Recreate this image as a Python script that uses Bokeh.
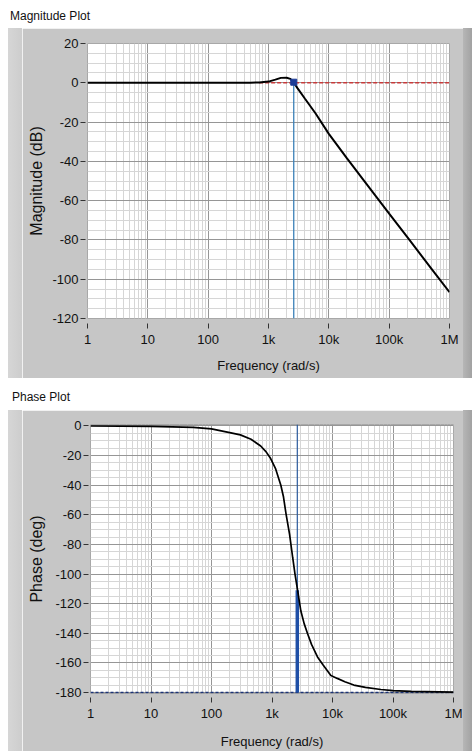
from bokeh.plotting import figure
from bokeh.models import Range1d, FixedTicker, CustomJSTickFormatter, Div
from bokeh.layouts import column, row
from bokeh.embed import file_html
from bokeh.resources import INLINE

# ---------------- data ----------------
x_ticks = [1, 10, 100, 1000, 10000, 100000, 1000000]
x_tick_labels = ["1", "10", "100", "1k", "10k", "100k", "1M"]
mag_ticks = [20, 0, -20, -40, -60, -80, -100, -120]
phase_ticks = [0, -20, -40, -60, -80, -100, -120, -140, -160, -180]

mag_freq = [1, 10, 100, 500, 700, 1000, 1300, 1600, 2000, 2300, 2600, 3000,
            4000, 6000, 10000, 20000, 50000, 100000, 200000, 500000, 1000000]
mag_db = [0, 0, 0, 0.05, 0.2, 0.6, 1.6, 2.5, 2.6, 2.0, 0.3, -2.6,
          -8.0, -15.5, -26.0, -38.5, -54.5, -66.6, -78.6, -94.6, -106.6]

phase_freq = [1, 10, 50, 100, 200, 300, 450, 650, 800, 950, 1150, 1400, 1550, 1700,
              1950, 2200, 2400, 2650, 3000, 3400, 3850, 4500, 5650, 7000, 9400,
              12000, 16000, 22500, 35000, 63000, 100000, 200000, 1000000]
phase_deg = [0, -0.2, -1.0, -2.0, -4.5, -6.0, -9.0, -13.5, -17.5, -22.0, -29.0, -40.0, -48.0, -59.0,
             -73.0, -89.0, -100.0, -111.0, -125.0, -133.5, -140.0, -147.5, -156.0, -161.5, -168.5,
             -170.5, -172.8, -175.0, -176.6, -178.0, -178.7, -179.3, -179.8]

cursor_freq = 2620
cursor_mag = 0.3
cursor_phase = -111
ref_mag_start = 700
ref_mag_db = 0
ref_phase_deg = -180

# ---------------- styling helpers ----------------
FONT = "Liberation Sans"
FRAME = "#c6c6c6"
decade_minor = [d * k for d in x_ticks[:-1] for k in range(2, 10)]

xfmt = CustomJSTickFormatter(args=dict(vals=x_ticks, labs=x_tick_labels), code="""
let best = 0, d = 1e9;
for (let i = 0; i < vals.length; i++) {
  const e = Math.abs(Math.log10(tick) - Math.log10(vals[i]));
  if (e < d) { d = e; best = i; }
}
return labs[best];
""")
yfmt = CustomJSTickFormatter(code="return Math.round(tick).toString();")


def style(p, yt, ystep, xlab, ylab, tick_gap_bottom, xl_standoff, yl_standoff):
    xt = FixedTicker(ticks=x_ticks, minor_ticks=decade_minor)
    ymin, ymax = min(yt), max(yt)
    yminor = list(range(ymin, ymax + 1, ystep))
    ytk = FixedTicker(ticks=yt, minor_ticks=yminor)
    p.xaxis.ticker = xt
    p.yaxis.ticker = ytk
    p.xgrid.ticker = xt
    p.ygrid.ticker = ytk
    p.xaxis.formatter = xfmt
    p.yaxis.formatter = yfmt
    for g in (p.xgrid, p.ygrid):
        g.grid_line_color = "#969696"
        g.grid_line_width = 1
        g.minor_grid_line_color = "#d6d6d6"
        g.minor_grid_line_width = 1
    for ax in (p.xaxis, p.yaxis):
        ax.axis_line_color = None
        ax.minor_tick_line_color = None
        ax.major_tick_line_color = "#333333"
        ax.major_label_text_font = FONT
        ax.major_label_text_font_size = "13px"
        ax.major_label_text_color = "#111111"
        ax.axis_label_text_font = FONT
        ax.axis_label_text_font_style = "normal"
        ax.axis_label_text_color = "#111111"
    p.xaxis.major_tick_in = -tick_gap_bottom
    p.xaxis.major_tick_out = tick_gap_bottom + 5
    p.xaxis.major_label_standoff = 3
    p.xaxis.axis_label = xlab
    p.xaxis.axis_label_text_font_size = "13px"
    p.xaxis.axis_label_standoff = xl_standoff
    p.yaxis.major_tick_in = -2
    p.yaxis.major_tick_out = 7
    p.yaxis.major_label_standoff = 2
    p.yaxis.axis_label = ylab
    p.yaxis.axis_label_text_font_size = "16px"
    p.yaxis.axis_label_standoff = yl_standoff
    p.outline_line_color = "#a8a8a8"


def framed(p):
    """Panel look: light band on the left, darker shaded edge on the right."""
    left = Div(text="", width=14, height=p.height, margin=(0, 0, 0, 0),
               styles={"background": "linear-gradient(to right, #d6d6d6, #cdcdcd)"})
    right = Div(text="", width=9, height=p.height, margin=(0, 0, 0, 0),
                styles={"background": "linear-gradient(to right, #b6b6b6, #a2a2a2)"})
    return row(left, p, right, spacing=0)


# ---------------- magnitude plot ----------------
p1 = figure(width=441, height=350, x_axis_type="log",
            x_range=Range1d(x_ticks[0], x_ticks[-1]),
            y_range=Range1d(mag_ticks[-1], mag_ticks[0]),
            output_backend="svg", toolbar_location=None,
            min_border_left=65, min_border_right=14,
            min_border_top=15, min_border_bottom=60,
            background_fill_color="white", border_fill_color=FRAME)
style(p1, mag_ticks, 5, "Frequency (rad/s)", "Magnitude (dB)", 5, 8, 4)

p1.line([ref_mag_start, x_ticks[-1]], [ref_mag_db, ref_mag_db],
        line_color="#c83a3a", line_dash="4 2", line_width=1.5)
p1.line(mag_freq, mag_db, line_color="black", line_width=2)
p1.segment(x0=[cursor_freq], y0=[cursor_mag], x1=[cursor_freq], y1=[mag_ticks[-1]],
           line_color="#3c80b8", line_width=1.3)
p1.scatter([cursor_freq], [cursor_mag], marker="square", size=6,
           fill_color="#1c3c96", line_color="#1c3c96")

# ---------------- phase plot ----------------
p2 = figure(width=441, height=341, x_axis_type="log",
            x_range=Range1d(x_ticks[0], x_ticks[-1]),
            y_range=Range1d(phase_ticks[-1] - 0.7, phase_ticks[0] + 1.0),
            output_backend="svg", toolbar_location=None,
            min_border_left=68, min_border_right=10,
            min_border_top=14, min_border_bottom=58,
            background_fill_color="white", border_fill_color=FRAME)
style(p2, phase_ticks, 5, "Frequency (rad/s)", "Phase (deg)", 4, 10, 7)

p2.line([x_ticks[0], x_ticks[-1]], [ref_phase_deg, ref_phase_deg],
        line_color="#1c3478", line_dash="3 2", line_width=1.5)
p2.segment(x0=[cursor_freq], y0=[phase_ticks[0] + 1.0], x1=[cursor_freq], y1=[cursor_phase],
           line_color="#2a5a9c", line_width=1.2)
p2.segment(x0=[cursor_freq], y0=[cursor_phase], x1=[cursor_freq], y1=[ref_phase_deg],
           line_color="#1f4fa6", line_width=3.5)
p2.line(phase_freq, phase_deg, line_color="black", line_width=1.7)

# ---------------- titles ----------------
title_css = "font-family:'Liberation Sans',Arial,sans-serif;font-size:12px;line-height:14px;color:#111;"
d1 = Div(text=f'<div style="{title_css}padding:0 0 0 2px;">Magnitude Plot</div>',
         width=464, height=20, margin=(0, 0, 0, 0))
d2 = Div(text=f'<div style="{title_css}padding:12px 0 0 4px;">Phase Plot</div>',
         width=464, height=32, margin=(0, 0, 0, 0))

layout = column(d1, framed(p1), d2, framed(p2), spacing=0, margin=(8, 0, 0, 8))
open("out.html", "w").write(file_html(layout, INLINE))
